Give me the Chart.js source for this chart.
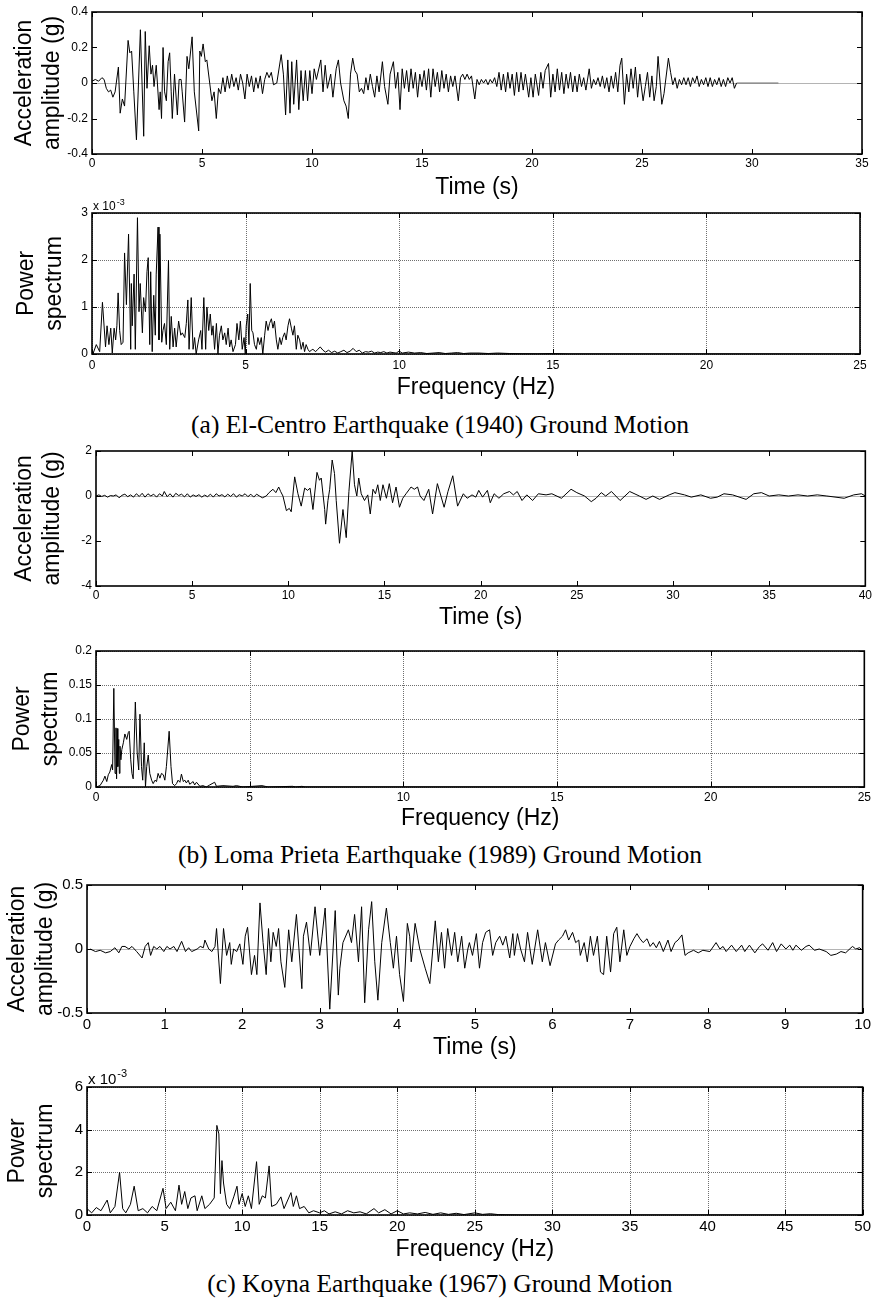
<!DOCTYPE html>
<html>
<head>
<meta charset="utf-8">
<script src="https://cdn.jsdelivr.net/npm/chart.js@4.4.1/dist/chart.umd.min.js"></script>
<style>
  body { margin: 0; background: #fff; width: 874px; height: 1299px; position: relative; overflow: hidden; }
  canvas { position: absolute; left: 0; }
  .caption {
    position: absolute; left: 0; width: 880px; text-align: center;
    font-family: "Liberation Serif", "Times New Roman", serif; font-size: 25.5px; line-height: 26px; color: #000;
  }
</style>
</head>
<body>
<div class="caption" style="top:412px">(a) El-Centro Earthquake (1940) Ground Motion</div>
<div class="caption" style="top:842px">(b) Loma Prieta Earthquake (1989) Ground Motion</div>
<div class="caption" style="top:1271px">(c) Koyna Earthquake (1967) Ground Motion</div>

<script>
// ---- El-Centro (1940) ----
const elCentroTime = [
  0, 0.15, 0.3, 0.45, 0.55, 0.65, 0.75, 0.85, 0.95, 1.05,
  1.2, 1.28, 1.38, 1.48, 1.64, 1.72, 1.8, 1.9, 2.02, 2.2,
  2.35, 2.42, 2.5, 2.6, 2.68, 2.75, 2.82, 2.92, 3.05, 3.1,
  3.16, 3.23, 3.3, 3.38, 3.46, 3.53, 3.6, 3.65, 3.75, 3.88,
  3.96, 4.05, 4.1, 4.21, 4.32, 4.4, 4.55, 4.65, 4.85, 4.9,
  4.97, 5.05, 5.15, 5.22, 5.35, 5.45, 5.55, 5.65, 5.75, 5.85,
  5.95, 6.05, 6.15, 6.25, 6.35, 6.45, 6.55, 6.65, 6.75, 6.85,
  6.95, 7.05, 7.15, 7.25, 7.35, 7.45, 7.55, 7.65, 7.75, 7.85,
  7.95, 8.05, 8.15, 8.25, 8.4, 8.6, 8.7, 8.8, 8.9, 9.0,
  9.08, 9.17, 9.3, 9.4, 9.5, 9.6, 9.7, 9.8, 9.9, 10.0,
  10.1, 10.2, 10.4, 10.5, 10.6, 10.7, 10.85, 10.95, 11.1, 11.2,
  11.3, 11.45, 11.55, 11.65, 11.75, 11.85, 11.95, 12.05, 12.15, 12.25,
  12.35, 12.45, 12.55, 12.65, 12.75, 12.85, 12.95, 13.05, 13.2, 13.3,
  13.45, 13.55, 13.7, 13.8, 13.9, 14.0, 14.1, 14.2, 14.3, 14.4,
  14.5, 14.6, 14.7, 14.8, 14.9, 15.0, 15.1, 15.2, 15.3, 15.4,
  15.5, 15.6, 15.7, 15.8, 15.9, 16.0, 16.1, 16.2, 16.3, 16.4,
  16.5, 16.65, 16.75, 16.85, 16.95, 17.05, 17.15, 17.25, 17.4, 17.5,
  17.6, 17.7, 17.8, 17.9, 18.0, 18.1, 18.2, 18.3, 18.4, 18.5,
  18.6, 18.7, 18.8, 18.9, 19.0, 19.1, 19.2, 19.3, 19.4, 19.5,
  19.6, 19.7, 19.85, 19.95, 20.05, 20.15, 20.3, 20.4, 20.5, 20.6,
  20.75, 20.85, 20.95, 21.05, 21.15, 21.25, 21.35, 21.45, 21.55, 21.65,
  21.75, 21.85, 21.95, 22.05, 22.15, 22.25, 22.35, 22.45, 22.6, 22.7,
  22.8, 22.9, 23.0, 23.1, 23.2, 23.3, 23.4, 23.5, 23.6, 23.7,
  23.8, 23.9, 24.0, 24.08, 24.2, 24.3, 24.4, 24.5, 24.6, 24.7,
  24.8, 24.9, 25.05, 25.15, 25.25, 25.35, 25.45, 25.55, 25.65, 25.73,
  25.9, 26.0, 26.2, 26.3, 26.4, 26.5, 26.6, 26.7, 26.8, 26.9,
  27.0, 27.1, 27.2, 27.3, 27.4, 27.5, 27.6, 27.7, 27.8, 27.9,
  28.0, 28.1, 28.2, 28.3, 28.4, 28.5, 28.6, 28.7, 28.8, 28.9,
  29.0, 29.1, 29.2, 29.3, 31.2
];
const elCentroAccel = [
  0.01, 0.02, 0.01, 0.03, 0.02, -0.03, -0.05, -0.04, -0.08, -0.05,
  0.09, -0.17, -0.09, -0.13, 0.24, 0.17, 0.18, -0.05, -0.32, 0.30,
  -0.30, 0.29, -0.03, 0.21, 0.05, 0.10, -0.02, 0.10, -0.15, -0.05,
  -0.20, 0.20, -0.05, -0.10, 0.12, 0.17, -0.05, -0.20, 0.05, -0.18,
  0.02, 0.02, -0.05, -0.22, 0.15, 0.08, 0.26, -0.05, -0.27, 0.18,
  0.15, 0.22, 0.12, 0.13, 0.0, -0.10, -0.05, -0.20, -0.03, -0.06,
  0.03, -0.05, 0.04, -0.03, 0.05, -0.02, 0.03, -0.04, 0.05, 0.0,
  -0.09, 0.05, -0.02, 0.04, -0.05, 0.03, -0.03, 0.04, -0.06, 0.02,
  0.06, 0.03, 0.06, -0.01, 0.0, 0.16, 0.05, -0.18, 0.13, -0.17,
  0.12, -0.12, 0.13, -0.15, 0.07, -0.10, 0.07, -0.10, 0.07, -0.06,
  0.08, 0.02, 0.13, -0.05, 0.10, -0.03, 0.05, -0.08, 0.08, 0.13,
  0.0, -0.10, -0.13, -0.20, 0.05, 0.14, 0.07, 0.05, -0.05, -0.03,
  -0.06, 0.03, -0.04, 0.05, -0.02, -0.08, 0.04, -0.05, 0.12, -0.02,
  -0.12, 0.05, 0.12, -0.03, 0.06, -0.15, 0.08, -0.03, 0.07, -0.05,
  0.08, -0.03, 0.06, -0.08, 0.05, -0.02, 0.07, -0.04, 0.08, -0.08,
  0.08, -0.02, 0.06, -0.05, 0.07, -0.03, 0.05, -0.05, 0.04, -0.02,
  0.04, -0.10, 0.03, 0.05, 0.02, 0.05, 0.02, 0.04, -0.09, 0.02,
  -0.01, 0.02, 0.0, 0.02, -0.01, 0.02, 0.0, 0.03, -0.02, 0.06,
  -0.04, 0.05, -0.05, 0.06, -0.03, 0.05, -0.07, 0.06, -0.05, 0.06,
  -0.04, 0.05, -0.08, 0.03, -0.08, 0.05, -0.07, 0.06, -0.03, 0.07,
  0.11, -0.08, 0.05, -0.05, 0.08, -0.04, 0.06, -0.06, 0.05, -0.03,
  0.06, -0.05, 0.04, -0.05, 0.05, -0.02, 0.03, -0.04, 0.08, -0.03,
  0.02, -0.01, 0.03, -0.02, 0.04, -0.03, 0.03, -0.05, 0.04, -0.03,
  0.06, -0.05, 0.10, 0.14, -0.12, 0.05, -0.05, 0.08, -0.03, 0.09,
  -0.08, 0.05, -0.10, -0.02, 0.06, -0.08, 0.04, -0.10, -0.02, 0.15,
  -0.12, -0.06, 0.14, 0.06, -0.01, 0.03, -0.03, 0.02, -0.01, 0.03,
  -0.01, 0.03, -0.02, 0.03, 0.0, 0.04, -0.02, 0.02, -0.01, 0.03,
  -0.02, 0.03, -0.02, 0.02, -0.01, 0.03, -0.02, 0.02, -0.02, 0.03,
  0.0, 0.03, -0.03, 0.0, 0.0
];
const elCentroFreq = [
  0, 0.03, 0.14, 0.25, 0.34, 0.44, 0.49, 0.55, 0.61, 0.66,
  0.72, 0.77, 0.81, 0.85, 0.90, 0.95, 1.01, 1.06, 1.12, 1.19,
  1.26, 1.28, 1.31, 1.37, 1.41, 1.48, 1.53, 1.57, 1.64, 1.68,
  1.74, 1.79, 1.83, 1.88, 1.91, 1.96, 2.01, 2.06, 2.09, 2.15,
  2.18, 2.21, 2.27, 2.31, 2.36, 2.42, 2.49, 2.53, 2.58, 2.64,
  2.69, 2.74, 2.82, 2.89, 2.94, 3.02, 3.07, 3.12, 3.16, 3.23,
  3.29, 3.34, 3.39, 3.47, 3.54, 3.58, 3.64, 3.70, 3.74, 3.80,
  3.85, 3.90, 3.94, 3.99, 4.05, 4.10, 4.15, 4.21, 4.26, 4.32,
  4.37, 4.43, 4.48, 4.53, 4.59, 4.67, 4.72, 4.78, 4.83, 4.89,
  4.95, 4.99, 5.02, 5.07, 5.11, 5.15, 5.20, 5.24, 5.29, 5.35,
  5.40, 5.46, 5.51, 5.56, 5.62, 5.67, 5.73, 5.78, 5.84, 5.89,
  5.94, 6.00, 6.05, 6.11, 6.16, 6.21, 6.27, 6.32, 6.38, 6.43,
  6.49, 6.54, 6.59, 6.65, 6.70, 6.76, 6.81, 6.87, 6.92, 6.97,
  7.03, 7.08, 7.14, 7.19, 7.28, 7.35, 7.43, 7.52, 7.6, 7.7,
  7.8, 7.9, 8.0, 8.1, 8.2, 8.3, 8.4, 8.5, 8.6, 8.7,
  8.8, 8.9, 9.0, 9.1, 9.2, 9.3, 9.4, 9.5, 9.6, 9.7,
  9.8, 9.9, 10.0, 10.1, 10.3, 10.5, 10.7, 10.9, 11.1, 11.3,
  11.5, 11.7, 11.9, 12.1, 12.3, 12.6, 12.9, 13.2, 13.6, 14.0,
  14.5, 15.0, 15.5, 25
];
// power values in units of 1e-3
const elCentroPower = [
  0.05, 0, 0.2, 0.05, 1.1, 0.15, 0.6, 0.2, 0.55, 0.02,
  0.55, 0.3, 0.6, 1.3, 0.5, 0.2, 0.25, 2.15, 1.05, 2.55,
  0.1, 1.5, 0.6, 1.7, 0.1, 2.9, 0.9, 1.5, 0.45, 1.2,
  0.9, 1.75, 2.05, 0.2, 1.75, 0.05, 1.25, 0.4, 1.7, 2.7,
  0.3, 2.55, 0.25, 0.5, 0.65, 0.2, 2.0, 0.1, 0.8, 0.15,
  0.55, 0.15, 0.7, 0.4, 0.45, 0.35, 0.65, 1.15, 0.1, 1.2,
  0.1, 0.35, 0.0, 0.3, 0.5, 0.1, 1.2, 0.1, 1.0, 0.5,
  0.85, 0.4, 0.6, 0.1, 0.65, 0.0, 0.4, 0.6, 0.3, 0.45,
  0.2, 0.55, 0.15, 0.3, 0.05, 0.2, 0.65, 0.3, 0.7, 0.1,
  0.35, 0.0, 0.6, 0.85, 0.2, 1.5, 0.5, 0.45, 0.2, 0.1,
  0.35, 0.2, 0.35, 0.0, 0.4, 0.7, 0.5, 0.65, 0.75, 0.55,
  0.7, 0.3, 0.1, 0.35, 0.2, 0.35, 0.45, 0.3, 0.6, 0.75,
  0.55, 0.4, 0.6, 0.1, 0.4, 0.3, 0.1, 0.25, 0.05, 0.2,
  0.1, 0.05, 0.08, 0.1, 0.05, 0.1, 0.15, 0.08, 0.04, 0.08,
  0.03, 0.06, 0.02, 0.05, 0.08, 0.03, 0.06, 0.12, 0.05, 0.08,
  0.02, 0.05, 0.04, 0.06, 0.02, 0.04, 0.03, 0.05, 0.02, 0.04,
  0.03, 0.02, 0.06, 0.02, 0.04, 0.02, 0.03, 0.01, 0.02, 0.03,
  0.01, 0.02, 0.03, 0.01, 0.02, 0.02, 0.01, 0.02, 0.01, 0.005,
  0.003, 0.01, 0.0, 0.0
];
const elCentroTimeTicks = [0, 5, 10, 15, 20, 25, 30, 35];
const elCentroAccelTicks = [-0.4, -0.2, 0, 0.2, 0.4];
const elCentroFreqTicks = [0, 5, 10, 15, 20, 25];
const elCentroPowerTicks = [0, 1, 2, 3];

// ---- Loma Prieta (1989) ----
const lomaTime = [
  0, 0.15, 0.3, 0.45, 0.6, 0.75, 0.9, 1.05, 1.2, 1.35,
  1.5, 1.65, 1.8, 1.95, 2.1, 2.25, 2.4, 2.55, 2.7, 2.85,
  3.0, 3.15, 3.3, 3.45, 3.55, 3.7, 3.85, 4.0, 4.15, 4.3,
  4.45, 4.6, 4.75, 4.9, 5.05, 5.2, 5.35, 5.5, 5.65, 5.8,
  5.95, 6.1, 6.25, 6.4, 6.55, 6.7, 6.85, 7.0, 7.15, 7.3,
  7.45, 7.6, 7.75, 7.9, 8.05, 8.2, 8.35, 8.5, 8.65, 8.85,
  9.0, 9.2, 9.35, 9.5, 9.6, 9.72, 9.9, 10.05, 10.15,
  10.33, 10.5, 10.67, 10.85, 11.0, 11.13, 11.28, 11.49, 11.62, 11.71,
  11.89, 11.94, 12.06, 12.15, 12.28, 12.4, 12.49, 12.66, 12.84, 13.01,
  13.15, 13.32, 13.44, 13.56, 13.66, 13.79, 13.96, 14.13, 14.26, 14.4,
  14.53, 14.65, 14.78, 14.92, 15.1, 15.25, 15.42, 15.6, 15.78, 15.95,
  16.12, 16.38, 16.55, 16.72, 16.85, 17.05, 17.3, 17.5, 17.75, 18.1,
  18.3, 18.55, 18.8, 19.1, 19.3, 19.55, 19.75, 19.9, 20.1, 20.35,
  20.5, 20.7, 20.95, 21.2, 21.5, 21.7, 21.9, 22.15, 22.4, 22.7,
  23.0, 23.4, 23.7, 24.2, 24.7, 25.0, 25.4, 25.75, 26.0, 26.27,
  26.5, 26.8, 27.25, 27.75, 28.25, 28.6, 28.95, 29.3, 29.8, 30.1,
  30.6, 30.95, 31.45, 31.95, 32.3, 32.65, 33.1, 33.8, 34.2, 34.6,
  35.0, 35.5, 36.0, 36.5, 37.0, 37.5, 38.0, 38.9, 39.4, 39.8,
  40
];
const lomaAccel = [
  0.0, 0.05, -0.02, 0.03, -0.05, 0.02, 0.0, 0.05, -0.08, 0.03,
  0.08, -0.03, 0.05, -0.05, 0.1, -0.02, 0.12, -0.05, 0.1, 0.0,
  0.08, -0.05, 0.1, 0.0, 0.2, -0.03, 0.1, -0.05, 0.12, 0.02,
  0.08, -0.04, 0.1, -0.05, 0.05, -0.02, 0.06, -0.05, 0.04, -0.03,
  0.08, -0.05, 0.1, 0.0, 0.06, -0.04, 0.08, -0.02, 0.1, -0.05,
  0.06, 0.0, 0.1, -0.03, 0.08, -0.05, 0.08, 0.0, -0.08, 0.0,
  0.15, 0.3, 0.15, 0.4, 0.2, 0.0, -0.65, -0.55, -0.7,
  0.85, 0.1, -0.45, 0.35, 0.25, 0.35, -0.6, 1.05, 0.7, 0.8,
  -0.6, -1.25, -0.2, 0.3, 1.6, 1.0, -0.2, -2.1, -0.6, -1.85,
  0.2, 2.0, 0.5, 0.0, 0.8, 0.1, -0.2, 0.05, -0.8, 0.3,
  0.1, 0.5, -0.2, 0.5, -0.1, 0.55, -0.3, 0.4, -0.5, -0.1,
  0.1, 0.4, 0.3, 0.4, 0.0, -0.2, 0.3, -0.8, 0.55, -0.5,
  0.2, 0.9, -0.45, 0.1, -0.1, 0.05, -0.05, 0.25, -0.05, 0.25,
  -0.3, 0.1, -0.1, 0.1, 0.2, 0.05, 0.2, -0.2, 0.05, -0.2,
  0.1, 0.05, 0.1, -0.1, 0.3, 0.15, 0.0, -0.25, -0.1, 0.15,
  0.0, 0.2, -0.2, 0.2, 0.0, -0.15, 0.0, -0.15, 0.05, 0.15,
  0.05, -0.05, 0.05, -0.1, -0.05, 0.1, 0.05, -0.15, 0.1, 0.15,
  0.0, 0.05, 0.0, 0.05, 0.0, 0.05, 0.0, -0.1, 0.05, 0.1,
  0.0
];
const lomaFreq = [
  0, 0.02, 0.13, 0.24, 0.29, 0.35, 0.40, 0.45, 0.51, 0.54,
  0.58, 0.62, 0.65, 0.67, 0.69, 0.71, 0.74, 0.76, 0.78, 0.81,
  0.84, 0.89, 0.94, 1.00, 1.05, 1.08, 1.13, 1.17, 1.21, 1.28,
  1.34, 1.39, 1.43, 1.48, 1.52, 1.57, 1.61, 1.65, 1.70, 1.75,
  1.81, 1.86, 1.92, 1.97, 2.02, 2.08, 2.13, 2.19, 2.24, 2.29,
  2.38, 2.44, 2.49, 2.56, 2.62, 2.67, 2.73, 2.78, 2.84, 2.89,
  2.94, 3.00, 3.05, 3.16, 3.21, 3.27, 3.38, 3.48, 3.59, 3.70,
  3.86, 3.92, 4.13, 4.46, 4.57, 4.78, 5.4, 5.5, 5.6, 6.4,
  6.5, 6.7, 6.8, 25
];
const lomaPower = [
  0, 0, 0.002, 0.01, 0.016, 0.008, 0.018, 0.022, 0.033, 0.025,
  0.145, 0.02, 0.087, 0.012, 0.086, 0.03, 0.07, 0.02, 0.06, 0.04,
  0.055, 0.065, 0.078, 0.07, 0.08, 0.082, 0.04, 0.02, 0.012, 0.125,
  0.05, 0.025, 0.107, 0.03, 0.01, 0.065, 0.0, 0.03, 0.047, 0.02,
  0.01, 0.005, 0.01, 0.008, 0.02, 0.013, 0.02, 0.018, 0.01, 0.03,
  0.082, 0.03, 0.005, 0.002, 0.005, 0.01, 0.007, 0.019, 0.008, 0.01,
  0.006, 0.01, 0.004, 0.008, 0.003, 0.007, 0.001, 0.002, 0.0, 0.003,
  0.007, 0.001, 0.002, 0.001, 0.002, 0.0, 0.002, 0.001, 0.0, 0.001,
  0.0, 0.001, 0.0, 0.0
];
const lomaTimeTicks = [0, 5, 10, 15, 20, 25, 30, 35, 40];
const lomaAccelTicks = [-4, -2, 0, 2];
const lomaFreqTicks = [0, 5, 10, 15, 20, 25];
const lomaPowerTicks = [0, 0.05, 0.1, 0.15, 0.2];

// ---- Koyna (1967) ----
const koynaTime = [
  0.04, 0.11, 0.17, 0.24, 0.30, 0.36, 0.41, 0.45, 0.49, 0.54,
  0.58, 0.64, 0.71, 0.75, 0.79, 0.82, 0.86, 0.90, 0.94, 0.99,
  1.03, 1.07, 1.12, 1.16, 1.22, 1.27, 1.31, 1.35, 1.42, 1.46,
  1.50, 1.52, 1.57, 1.61, 1.65, 1.67, 1.72, 1.76, 1.80, 1.84,
  1.86, 1.89, 1.93, 1.97, 2.01, 2.04, 2.07, 2.12, 2.16, 2.19,
  2.23, 2.27, 2.31, 2.34, 2.37, 2.40, 2.44, 2.47, 2.50, 2.55,
  2.60, 2.64, 2.70, 2.77, 2.79, 2.83, 2.88, 2.94, 3.00, 3.03,
  3.07, 3.13, 3.20, 3.24, 3.26, 3.30, 3.37, 3.41, 3.45, 3.50,
  3.54, 3.58, 3.63, 3.67, 3.71, 3.75, 3.80, 3.86, 3.91, 3.95,
  3.99, 4.03, 4.08, 4.13, 4.16, 4.18, 4.23, 4.29, 4.36, 4.42,
  4.49, 4.53, 4.57, 4.61, 4.65, 4.70, 4.74, 4.78, 4.83, 4.87,
  4.91, 4.93, 4.97, 5.02, 5.06, 5.10, 5.14, 5.19, 5.23, 5.27,
  5.32, 5.36, 5.40, 5.45, 5.49, 5.51, 5.55, 5.59, 5.64, 5.68,
  5.74, 5.81, 5.87, 5.91, 5.97, 6.04, 6.08, 6.13, 6.17, 6.21,
  6.26, 6.30, 6.34, 6.36, 6.41, 6.45, 6.49, 6.53, 6.58, 6.62,
  6.66, 6.70, 6.75, 6.79, 6.83, 6.87, 6.92, 6.96, 7.00, 7.05,
  7.09, 7.13, 7.17, 7.22, 7.26, 7.30, 7.34, 7.38, 7.43, 7.49,
  7.53, 7.58, 7.62, 7.67, 7.71, 7.75, 7.82, 7.88, 7.94, 8.03,
  8.11, 8.16, 8.20, 8.24, 8.31, 8.37, 8.44, 8.48, 8.54, 8.61,
  8.67, 8.71, 8.78, 8.84, 8.89, 8.95, 9.01, 9.06, 9.10, 9.14,
  9.21, 9.27, 9.31, 9.38, 9.44, 9.53, 9.59, 9.66, 9.72, 9.78,
  9.85, 9.87, 9.91, 9.96, 9.98
];
const koynaAccel = [
  0.0, -0.02, -0.01, -0.03, -0.02, 0.01, -0.03, 0.02, 0.02, 0.0,
  0.02, -0.02, -0.07, 0.02, 0.05, -0.05, 0.02, 0.0, 0.02, -0.02,
  0.02, 0.0, 0.02, -0.02, 0.06, -0.02, 0.01, -0.02, 0.0, 0.02,
  0.01, 0.07, 0.0, -0.02, 0.02, 0.16, -0.27, 0.16, -0.05, 0.05,
  -0.12, 0.0, -0.02, 0.04, -0.12, 0.1, 0.17, -0.2, -0.05, -0.2,
  0.36, 0.05, -0.2, 0.16, -0.1, 0.13, 0.02, 0.16, -0.1, -0.3,
  0.15, -0.1, 0.27, -0.31, 0.1, 0.21, -0.05, 0.33, -0.05, 0.1,
  0.32, -0.47, 0.3, -0.36, -0.15, 0.05, 0.15, 0.05, 0.27, -0.1,
  0.33, -0.42, 0.15, 0.37, -0.1, -0.4, 0.05, 0.32, 0.05, -0.15,
  0.1, -0.2, -0.41, 0.2, 0.1, -0.1, 0.2, 0.0, -0.15, -0.27,
  0.22, -0.1, 0.13, -0.15, 0.16, -0.05, 0.13, -0.1, 0.1, -0.15,
  0.0, 0.05, -0.05, 0.12, -0.15, 0.05, 0.13, 0.15, -0.05, 0.05,
  0.1, 0.03, 0.1, -0.07, 0.12, -0.05, 0.12, 0.0, -0.1, 0.13,
  -0.12, 0.15, -0.1, 0.05, -0.13, 0.04, 0.07, 0.1, 0.15, 0.07,
  0.13, 0.05, 0.07, -0.05, 0.05, -0.1, 0.1, -0.05, 0.1, -0.18,
  -0.2, 0.1, -0.18, 0.12, 0.17, -0.1, 0.15, -0.05, 0.02, 0.08,
  0.12, 0.08, 0.05, 0.08, 0.02, 0.05, 0.01, 0.06, -0.02, 0.07,
  -0.02, 0.05, 0.07, 0.11, -0.05, -0.03, -0.01, -0.03, -0.01, -0.02,
  0.05, 0.0, 0.02, -0.02, 0.03, -0.02, 0.03, -0.02, 0.03, -0.03,
  0.02, 0.04, -0.01, 0.05, -0.02, 0.04, 0.0, 0.03, -0.01, 0.03,
  -0.01, 0.02, 0.03, -0.01, 0.0, -0.02, -0.05, -0.04, -0.02, -0.03,
  0.01, 0.02, 0.0, 0.01, 0.0
];
const koynaFreq = [
  0, 0.3, 0.6, 0.9, 1.3, 1.5, 1.8, 2.1, 2.3, 2.5,
  2.8, 3.04, 3.3, 3.6, 3.9, 4.2, 4.5, 4.9, 5.1, 5.4,
  5.7, 5.93, 6.1, 6.3, 6.5, 6.7, 6.96, 7.1, 7.4, 7.6,
  7.9, 8.2, 8.37, 8.5, 8.6, 8.7, 8.8, 9.0, 9.2, 9.46,
  9.67, 9.8, 10.0, 10.2, 10.4, 10.6, 10.93, 11.1, 11.3, 11.5,
  11.74, 11.9, 12.2, 12.5, 12.7, 13.15, 13.3, 13.5, 13.7, 14.0,
  14.3, 14.6, 15.0, 15.3, 15.6, 16.0, 16.4, 16.8, 17.2, 17.6,
  18.0, 18.5, 18.8, 19.2, 19.6, 20.0, 20.4, 20.8, 21.3, 21.8,
  22.3, 22.8, 23.3, 23.8, 24.3, 25.0, 25.5, 26.0, 26.5, 27.0,
  28, 50
];
// power values in units of 1e-3
const koynaPower = [
  0.3, 0.1, 0.35, 0.2, 0.7, 0.1, 0.4, 2.0, 0.3, 0.1,
  0.5, 1.35, 0.2, 0.3, 0.1, 0.4, 0.2, 1.25, 0.3, 0.6,
  0.2, 1.4, 0.5, 1.1, 0.3, 0.8, 0.9, 0.2, 0.9, 0.3,
  0.5, 0.8, 4.2, 3.8, 1.0, 2.55, 1.5, 0.5, 0.3, 0.85,
  1.35, 0.5, 1.0, 0.4, 0.9, 0.3, 2.5, 0.5, 0.9, 0.8,
  2.3, 0.4, 0.5, 0.85, 0.3, 1.05, 0.4, 0.9, 0.3, 0.4,
  0.1, 0.2, 0.1, 0.2, 0.05, 0.15, 0.05, 0.2, 0.1, 0.15,
  0.05, 0.3, 0.1, 0.25, 0.05, 0.2, 0.05, 0.1, 0.05, 0.12,
  0.03, 0.1, 0.03, 0.08, 0.02, 0.1, 0.03, 0.06, 0.02, 0.01,
  0, 0
];
const koynaTimeTicks = [0, 1, 2, 3, 4, 5, 6, 7, 8, 9, 10];
const koynaAccelTicks = [-0.5, 0, 0.5];
const koynaFreqTicks = [0, 5, 10, 15, 20, 25, 30, 35, 40, 45, 50];
const koynaPowerTicks = [0, 2, 4, 6];

// ---------------------------------------------------------------------------
const FONT = '"Liberation Sans", Arial, Helvetica, sans-serif';
Chart.defaults.font.family = FONT;
Chart.defaults.color = '#000';

// MATLAB-like axes decoration, one instance per panel (settings kept in the
// closure): dotted grid for spectra or a grey zero line for time histories
// underneath the trace, then a box with inward tick marks on top.
function makeFrame(withGrid, withExponent, expFont) {
  return {
    id: 'matlabFrame',
    beforeDatasetsDraw(chart) {
      const { ctx, chartArea: a, scales: { x, y } } = chart;
      ctx.save();
      ctx.lineWidth = 1;
      ctx.beginPath();
      if (withGrid === true) {
        ctx.strokeStyle = '#6f6f6f';
        ctx.setLineDash([1, 1]);
        x.ticks.forEach(t => {
          const px = Math.round(x.getPixelForValue(t.value)) + 0.5;
          ctx.moveTo(px, a.top); ctx.lineTo(px, a.bottom);
        });
        y.ticks.forEach(t => {
          const py = Math.round(y.getPixelForValue(t.value)) + 0.5;
          ctx.moveTo(a.left, py); ctx.lineTo(a.right, py);
        });
      } else {
        ctx.strokeStyle = '#b4b4b4';
        const py = Math.round(y.getPixelForValue(0)) + 0.5;
        ctx.moveTo(a.left, py); ctx.lineTo(a.right, py);
      }
      ctx.stroke();
      ctx.restore();
    },
    afterDatasetsDraw(chart) {
      const { ctx, chartArea: a, scales: { x, y } } = chart;
      ctx.save();
      ctx.setLineDash([]);
      ctx.strokeStyle = '#000';
      ctx.lineWidth = 1;
      ctx.beginPath();
      x.ticks.forEach(t => {
        const px = Math.round(x.getPixelForValue(t.value)) + 0.5;
        ctx.moveTo(px, a.bottom); ctx.lineTo(px, a.bottom - 5);
        ctx.moveTo(px, a.top); ctx.lineTo(px, a.top + 5);
      });
      y.ticks.forEach(t => {
        const py = Math.round(y.getPixelForValue(t.value)) + 0.5;
        ctx.moveTo(a.left, py); ctx.lineTo(a.left + 5, py);
        ctx.moveTo(a.right, py); ctx.lineTo(a.right - 5, py);
      });
      ctx.stroke();
      ctx.lineWidth = 1.6;
      ctx.strokeRect(a.left, a.top, a.right - a.left, a.bottom - a.top);
      if (withExponent === true) {
        ctx.fillStyle = '#000';
        ctx.textBaseline = 'alphabetic';
        ctx.font = expFont + 'px ' + FONT;
        ctx.fillText('x 10', a.left + 1, a.top - 3);
        const w = ctx.measureText('x 10').width;
        ctx.font = Math.round(expFont * 0.72) + 'px ' + FONT;
        ctx.fillText('-3', a.left + 2 + w, a.top - 3 - expFont * 0.45);
      }
      ctx.restore();
    }
  };
}

const fmt = v => (Math.abs(v) < 1e-9 ? '0' : String(parseFloat(v.toFixed(4))));

function buildPanel(g, xs, ys, xTicks, yTicks, extra) {
  const padTop = 22;
  const canvas = document.createElement('canvas');
  canvas.width = 874;
  canvas.height = (g.bottom - g.top) + padTop + g.xAxisH;
  canvas.style.top = (g.top - padTop) + 'px';
  document.body.appendChild(canvas);

  const n = Math.min(xs.length, ys.length);
  const points = [];
  for (let i = 0; i < n; i++) points.push({ x: xs[i], y: ys[i] });

  new Chart(canvas, {
    type: 'line',
    data: {
      datasets: [{
        data: points,
        borderColor: '#000',
        borderWidth: 1,
        pointRadius: 0,
        tension: 0,
        segment: extra.segment || {}
      }]
    },
    options: {
      responsive: false,
      animation: false,
      devicePixelRatio: 1,
      layout: { padding: { top: padTop, right: 874 - g.right, left: 0, bottom: 0 } },
      plugins: { legend: { display: false }, tooltip: { enabled: false } },
      scales: {
        x: {
          type: 'linear',
          min: xTicks[0],
          max: xTicks[xTicks.length - 1],
          afterBuildTicks: s => { s.ticks = xTicks.map(v => ({ value: v })); },
          afterFit: s => { s.height = g.xAxisH; },
          grid: { display: false, drawOnChartArea: false, drawTicks: false, lineWidth: 0 },
          border: { display: false },
          ticks: { autoSkip: false, maxRotation: 0, padding: g.tickPad, font: { size: g.tickFont }, callback: fmt },
          title: { display: true, text: extra.xTitle, font: { size: 23, lineHeight: 1.2 }, padding: { top: 0, bottom: 0 } }
        },
        y: {
          type: 'linear',
          min: yTicks[0],
          max: yTicks[yTicks.length - 1],
          afterBuildTicks: s => { s.ticks = yTicks.map(v => ({ value: v })); },
          afterFit: s => { s.width = g.left; },
          grid: { display: false, drawOnChartArea: false, drawTicks: false, lineWidth: 0 },
          border: { display: false },
          ticks: { padding: 4, font: { size: g.tickFont }, callback: fmt },
          title: { display: true, text: extra.yTitle, font: { size: 23, lineHeight: 1.24 }, padding: { top: g.titlePad, bottom: 0 } }
        }
      }
    },
    plugins: [makeFrame(extra.spectrum === true, extra.exponent === true, g.tickFont)]
  });
}

const accelTitle = ['Acceleration', 'amplitude (g)'];
const powerTitle = ['Power', 'spectrum'];

buildPanel({ top: 12, bottom: 154, left: 92, right: 862, xAxisH: 47, tickPad: 2, tickFont: 12, titlePad: 10 },
  elCentroTime, elCentroAccel, elCentroTimeTicks, elCentroAccelTicks,
  { xTitle: 'Time (s)', yTitle: accelTitle, spectrum: false,
    segment: { borderColor: c => (c.p0.parsed.x >= 29.3 ? '#6e6e6e' : '#000') } });

buildPanel({ top: 213, bottom: 354, left: 92, right: 860, xAxisH: 47, tickPad: 4, tickFont: 12, titlePad: 12 },
  elCentroFreq, elCentroPower, elCentroFreqTicks, elCentroPowerTicks,
  { xTitle: 'Frequency (Hz)', yTitle: powerTitle, spectrum: true, exponent: true });

buildPanel({ top: 451, bottom: 586, left: 96, right: 867, xAxisH: 45, tickPad: 2, tickFont: 12, titlePad: 10 },
  lomaTime, lomaAccel, lomaTimeTicks, lomaAccelTicks,
  { xTitle: 'Time (s)', yTitle: accelTitle, spectrum: false });

buildPanel({ top: 651, bottom: 787, left: 96, right: 867, xAxisH: 45, tickPad: 3, tickFont: 12, titlePad: 8 },
  lomaFreq, lomaPower, lomaFreqTicks, lomaPowerTicks,
  { xTitle: 'Frequency (Hz)', yTitle: powerTitle, spectrum: true });

buildPanel({ top: 885, bottom: 1013, left: 87, right: 866, xAxisH: 48, tickPad: 3, tickFont: 15, titlePad: 3 },
  koynaTime, koynaAccel, koynaTimeTicks, koynaAccelTicks,
  { xTitle: 'Time (s)', yTitle: accelTitle, spectrum: false });

buildPanel({ top: 1087, bottom: 1215, left: 87, right: 866, xAxisH: 48, tickPad: 3, tickFont: 15, titlePad: 3 },
  koynaFreq, koynaPower, koynaFreqTicks, koynaPowerTicks,
  { xTitle: 'Frequency (Hz)', yTitle: powerTitle, spectrum: true, exponent: true });
</script>
</body>
</html>
